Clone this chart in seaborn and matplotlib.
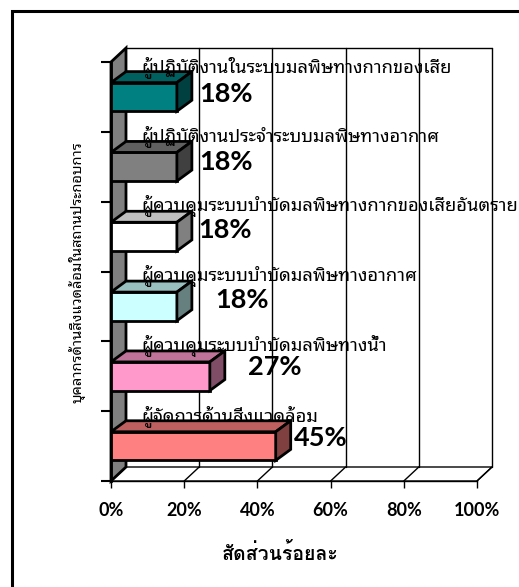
import matplotlib
matplotlib.use("Agg")
import matplotlib.pyplot as plt
import seaborn as sns
import numpy as np
from matplotlib.patches import Polygon, Rectangle
from matplotlib.lines import Line2D
from matplotlib.transforms import IdentityTransform
from matplotlib import font_manager as fm
from matplotlib.ft2font import FT2Font

# ---- data -------------------------------------------------------------
categories = [
    "ผู้ปฏิบัติงานในระบบมลพิษทางกากของเสีย",
    "ผู้ปฏิบัติงานประจำระบบมลพิษทางอากาศ",
    "ผู้ควบคุมระบบบำบัดมลพิษทางกากของเสียอันตราย",
    "ผู้ควบคุมระบบบำบัดมลพิษทางอากาศ",
    "ผู้ควบคุมระบบบำบัดมลพิษทางน้ำ",
    "ผู้จัดการด้านสิ่งแวดล้อม",
]
shares = [18, 18, 18, 18, 27, 45]
bar_colors = ["#008080", "#808080", "#FFFFFF", "#CCFFFF", "#FF99CC", "#FF8080"]
x_ticks = [0, 20, 40, 60, 80, 100]
x_title = "สัดส่วนร้อยละ"
y_title = "บุคลากรด้านสิ่งแวดล้อมในสถานประกอบการ"

# pixel shift of each value label from the bar's right end / centre
value_shift = [(49, 3), (49, 5), (48, 7), (65, 6), (65, 9), (45, 8)]


# ---- fonts ------------------------------------------------------------
def thai_faces(ch="ก"):
    faces = []
    for f in fm.fontManager.ttflist:
        try:
            if ord(ch) in FT2Font(f.fname).get_charmap():
                faces.append(f)
        except Exception:
            pass
    return faces


def thai_rank(name):
    prefs = ["Tahoma", "Leelawadee", "Noto Sans Thai Looped", "Loma",
             "Garuda", "Waree", "Noto Sans Thai", "Sans"]
    for k, p in enumerate(prefs):
        if p.lower() in name.lower():
            return k
    return len(prefs)


faces = thai_faces()
thai_fams = sorted({f.name for f in faces}, key=thai_rank)
bold_fams = sorted({f.name for f in faces
                    if isinstance(f.weight, int) and f.weight >= 600
                    or f.weight in ("bold", "heavy", "black")}, key=thai_rank)

sns.set_style("white")
plt.rcParams.update({
    "text.color": "black",
    "axes.edgecolor": "black",
    "axes.labelcolor": "black",
    "xtick.color": "black",
    "ytick.color": "black",
})
plt.rcParams["font.family"] = thai_fams[:1] + ["DejaVu Sans"]
bold_thai = (bold_fams[:1] or thai_fams[:1]) + ["DejaVu Sans"]
num_font = ["Lato", "DejaVu Sans"]

# ---- figure -----------------------------------------------------------
W, H = 519, 587
fig = plt.figure(figsize=(W / 100, H / 100), dpi=100)
ax = fig.add_axes([111 / W, 106 / H, 366 / W, 419 / H])
ax.set_facecolor("none")

sns.barplot(x=shares, y=categories, hue=categories, palette=bar_colors,
            legend=False, orient="h", width=0.41, saturation=1,
            edgecolor="black", linewidth=2, ax=ax)
ax.set_xlim(0, 100)
ax.set_ylim(len(categories) - 0.5, -0.5)

WALL = np.array([15, 14])   # depth of walls/floor in pixels
DEPTH = np.array([15, 11])  # depth of the bars in pixels


def px(x, y):
    return ax.transData.transform((x, y))


def poly(pts, fc, lw=1.5, z=1):
    ax.add_patch(Polygon(pts, closed=True, facecolor=fc, edgecolor="black",
                         linewidth=lw, transform=IdentityTransform(),
                         clip_on=False, zorder=z, joinstyle="miter"))


def seg(p, q, lw=1.0, z=1, color="black"):
    ax.add_line(Line2D([p[0], q[0]], [p[1], q[1]], color=color, linewidth=lw,
                       transform=IdentityTransform(), clip_on=False, zorder=z))


ylo, yhi = len(categories) - 0.5, -0.5
# floor
fb0, fb1 = px(0, ylo), px(100, ylo)
poly([fb0, fb1, fb1 + WALL, fb0 + WALL], "white", lw=1.0, z=0.5)
# left side wall
lt = px(0, yhi)
poly([fb0, lt, lt + WALL, fb0 + WALL], "#808080", lw=2.0, z=0.6)
# back wall grid + floor lines
for t in x_ticks[1:]:
    seg(px(t, ylo) + WALL, px(t, yhi) + WALL, lw=1.0, z=0.7)
for t in x_ticks:
    seg(px(t, ylo), px(t, ylo) + WALL, lw=1.0, z=0.7)
seg(lt + WALL, px(100, yhi) + WALL, lw=1.0, z=0.7)


def shade(c, k):
    r, g, b = matplotlib.colors.to_rgb(c)
    return (r * k, g * k, b * k)


# 3-D faces of the bars
for i, patch in enumerate(ax.patches[:len(categories)]):
    patch.set_zorder(3)
    bb = patch.get_window_extent()
    x0, x1 = bb.x0, bb.x1
    yb, yt = bb.y0, bb.y1
    c = bar_colors[i]
    poly([(x0, yt), (x1, yt), (x1 + DEPTH[0], yt + DEPTH[1]),
          (x0 + DEPTH[0], yt + DEPTH[1])], shade(c, 0.75), lw=2.0, z=3)
    poly([(x1, yb), (x1, yt), (x1 + DEPTH[0], yt + DEPTH[1]),
          (x1 + DEPTH[0], yb + DEPTH[1])], shade(c, 0.5), lw=2.0, z=3)

# category and value labels
for i, (name, v) in enumerate(zip(categories, shares)):
    top = i - 0.205
    ax.annotate(name, xy=(0, top), xytext=(30, 11), textcoords="offset pixels",
                ha="left", va="baseline", fontsize=13.2, zorder=5,
                annotation_clip=False)
    dx, dy = value_shift[i]
    ax.annotate(f"{v}%", xy=(v, i), xytext=(dx, dy), textcoords="offset pixels",
                ha="center", va="center", fontsize=19.5, fontweight="bold",
                family=num_font, zorder=5, annotation_clip=False)

# axes styling
for s in ("top", "right"):
    ax.spines[s].set_visible(False)
ax.spines["left"].set_linewidth(2.0)
ax.spines["bottom"].set_linewidth(1.0)
ax.spines["left"].set_zorder(2.5)
ax.set_yticks(np.arange(-0.5, len(categories), 1.0))
ax.set_yticklabels([])
ax.set_xticks(x_ticks)
ax.set_xticklabels([f"{t}%" for t in x_ticks], fontweight="bold",
                   fontsize=13, family=num_font)
ax.tick_params(axis="y", direction="out", length=7, width=1.5, left=True)
ax.tick_params(axis="x", direction="out", length=5, width=1.0, bottom=True, pad=10)
ax.set_xlabel("")
ax.set_ylabel("")
ax.grid(False)

fig.text(280 / W, 1 - 553 / H, x_title, ha="center", va="center",
         fontsize=14, fontweight="bold", family=bold_thai)
fig.text(77 / W, 1 - 272 / H, y_title, ha="center", va="center",
         rotation=90, fontsize=10.6)

# outer frame
fig.add_artist(Rectangle((11.5 / W, -0.5), 2, (1 - 11.5 / H) + 0.5,
                         transform=fig.transFigure, fill=False,
                         edgecolor="black", linewidth=2.2))

fig.savefig("out.png", dpi=100)
